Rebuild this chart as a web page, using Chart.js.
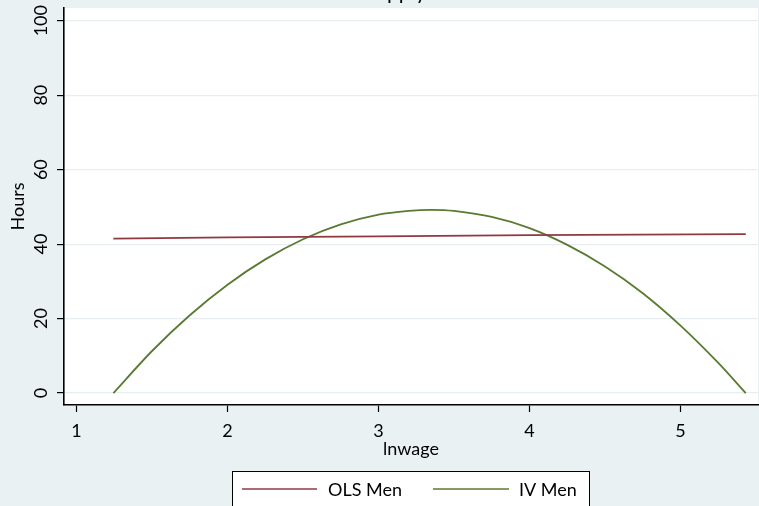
<!DOCTYPE html>
<html>
<head>
<meta charset="utf-8">
<script src="https://cdn.jsdelivr.net/npm/chart.js@4/dist/chart.umd.min.js"></script>
<style>
html,body{margin:0;padding:0;background:#eaf1f3;}
#wrap{width:759px;height:506px;position:relative;}
</style>
</head>
<body>
<div id="wrap"><canvas id="c" width="759" height="506"></canvas></div>
<script>
// ---- data ----
const titleText = "Labor Supply";
const xTitle = "lnwage";
const yTitle = "Hours";
const xTicks = [1, 2, 3, 4, 5];
const yTicks = [0, 20, 40, 60, 80, 100];
const olsLnwage = [1.244, 2.0, 3.0, 4.0, 5.432];
const olsHours  = [41.5, 41.8, 42.1, 42.4, 42.7];
const ivLnwage = [1.244, 1.5, 1.75, 2.0, 2.25, 2.5, 2.75, 3.0, 3.2, 3.35, 3.5, 3.75, 4.0, 4.25, 4.5, 4.75, 5.0, 5.25, 5.432];
const ivHours  = [0, 11.3, 20.9, 29.1, 35.9, 41.3, 45.3, 47.9, 48.9, 49.2, 48.9, 47.3, 44.3, 39.8, 34.0, 26.8, 18.1, 8.1, 0];
const seriesNames = ["OLS Men", "IV Men"];
const seriesColors = ["#903a40", "#5a7a33"];

const FONT = "Lato, 'Open Sans', sans-serif";

const toXY = (xs, ys) => xs.map((x, i) => ({x: x, y: ys[i]}));

const bgPlugin = {
  id: 'bg',
  beforeDraw(chart) {
    const ctx = chart.ctx, a = chart.chartArea;
    ctx.save();
    ctx.fillStyle = '#eaf1f3';
    ctx.fillRect(0, 0, chart.width, chart.height);
    ctx.fillStyle = '#ffffff';
    ctx.fillRect(a.left, a.top, a.right - a.left, a.bottom - a.top);
    ctx.restore();
  },
  afterDraw(chart) {
    const ctx = chart.ctx, a = chart.chartArea, ys = chart.scales.y;
    ctx.save();
    ctx.fillStyle = '#000';
    ctx.font = "18px " + FONT;
    ctx.textAlign = 'center';
    ctx.textBaseline = 'middle';
    // y tick labels, vertical
    yTicks.forEach(v => {
      const py = ys.getPixelForValue(v);
      ctx.save();
      ctx.translate(41, py);
      ctx.rotate(-Math.PI / 2);
      ctx.fillText(String(v), 0, 0);
      ctx.restore();
    });
    // y title
    ctx.save();
    ctx.translate(18, (a.top + a.bottom) / 2);
    ctx.rotate(-Math.PI / 2);
    ctx.fillText(yTitle, 0, 0);
    ctx.restore();
    // x title
    ctx.fillText(xTitle, 411, 449);
    // title (only descenders visible at top edge)
    ctx.font = "21px " + FONT;
    ctx.textAlign = 'left';
    ctx.textBaseline = 'alphabetic';
    const pre = ctx.measureText("Labor ").width;
    ctx.fillText(titleText, 364 - pre, -1);
    // legend
    const lx = 232, ly = 471, lw = 357, lh = 45;
    ctx.fillStyle = '#ffffff';
    ctx.fillRect(lx, ly, lw, lh);
    ctx.strokeStyle = '#000';
    ctx.lineWidth = 1;
    ctx.strokeRect(lx + 0.5, ly + 0.5, lw, lh);
    const entries = [[242, 317, 328], [433, 509, 519]];
    ctx.font = "18px " + FONT;
    ctx.textBaseline = 'middle';
    ctx.textAlign = 'left';
    entries.forEach((e, i) => {
      ctx.strokeStyle = seriesColors[i];
      ctx.lineWidth = 1.5;
      ctx.beginPath();
      ctx.moveTo(e[0], 489);
      ctx.lineTo(e[1], 489);
      ctx.stroke();
      ctx.fillStyle = '#000';
      ctx.fillText(seriesNames[i], e[2], 490);
    });
    ctx.restore();
  }
};

new Chart(document.getElementById('c'), {
  type: 'line',
  data: {
    datasets: [
      {label: seriesNames[0], data: toXY(olsLnwage, olsHours), borderColor: seriesColors[0], borderWidth: 1.8, pointRadius: 0, tension: 0, fill: false},
      {label: seriesNames[1], data: toXY(ivLnwage, ivHours), borderColor: seriesColors[1], borderWidth: 1.8, pointRadius: 0, tension: 0.3, fill: false}
    ]
  },
  options: {
    responsive: false,
    animation: false,
    events: [],
    layout: {padding: {top: 8, right: 1, left: 0, bottom: 0}},
    plugins: {legend: {display: false}, tooltip: {enabled: false}, title: {display: false}},
    scales: {
      x: {
        type: 'linear',
        min: 0.917, max: 5.513,
        afterBuildTicks(s) { s.ticks = xTicks.map(v => ({value: v})); },
        afterFit(s) { s.height = 101; },
        grid: {display: true, drawOnChartArea: false, drawTicks: true, tickLength: 7, tickColor: '#000', tickWidth: 1.2},
        border: {display: true, color: '#000', width: 1.6},
        ticks: {color: '#000', font: {family: FONT, size: 18}, padding: 8, maxRotation: 0, callback: v => String(v)},
        title: {display: false}
      },
      y: {
        type: 'linear',
        min: -3.2, max: 103.4,
        afterBuildTicks(s) { s.ticks = yTicks.map(v => ({value: v})); },
        afterFit(s) { s.width = 64; },
        grid: {display: true, color: '#e6eef1', lineWidth: 1.2, drawTicks: true, tickLength: 7, tickColor: '#000', tickWidth: 1.2},
        border: {display: true, color: '#000', width: 1.6},
        ticks: {display: false}
      }
    }
  },
  plugins: [bgPlugin]
});
</script>
</body>
</html>
